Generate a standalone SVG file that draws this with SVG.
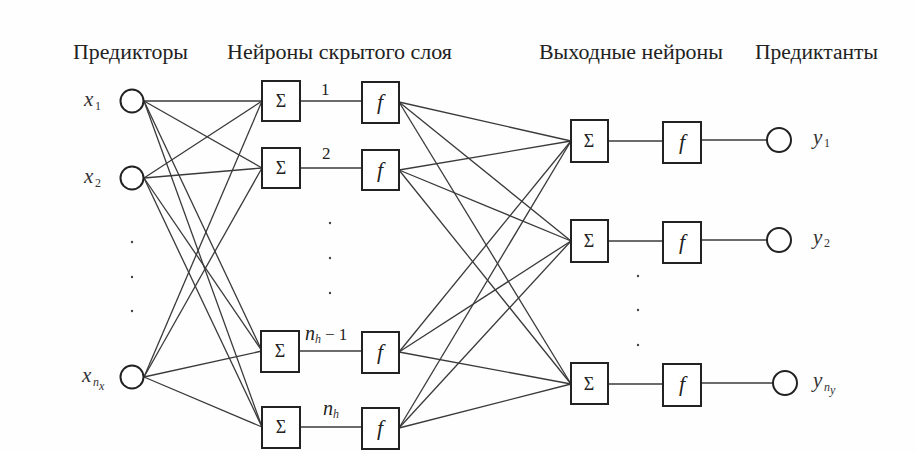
<svg xmlns="http://www.w3.org/2000/svg" width="917" height="453" viewBox="0 0 917 453">
<style>
.hdr{font-size:20px;fill:#222}
.var{font-style:italic;font-size:21px;fill:#333}
.sub{font-size:12px;fill:#333}
.subi{font-style:italic;font-size:12px;fill:#333}
.box{fill:#fff;stroke:#222;stroke-width:2}
.node{fill:#fff;stroke:#222;stroke-width:2}
.sym{font-size:18px;fill:#222;text-anchor:middle}
.fsym{font-style:italic;font-size:22px;fill:#222;text-anchor:middle}
.lbl{font-size:17px;fill:#222}
.lbli{font-style:italic;font-size:20px;fill:#222}
.dot{fill:#444}
#connectors line{stroke:#3a3a3a;stroke-width:1.3}
</style>
<rect fill="#fefefe" x="0" y="0" width="917" height="453"/>
<g id="headers">
<text font-family="Liberation Serif" class="hdr" x="73" y="59" textLength="115" lengthAdjust="spacingAndGlyphs">Предикторы</text>
<text font-family="Liberation Serif" class="hdr" x="227" y="59" textLength="225" lengthAdjust="spacingAndGlyphs">Нейроны скрытого слоя</text>
<text font-family="Liberation Serif" class="hdr" x="539" y="59" textLength="184" lengthAdjust="spacingAndGlyphs">Выходные нейроны</text>
<text font-family="Liberation Serif" class="hdr" x="755" y="59" textLength="123" lengthAdjust="spacingAndGlyphs">Предиктанты</text>
</g>

<g id="connectors">
<line x1="144" y1="101" x2="262" y2="101"/>
<line x1="144" y1="101" x2="262" y2="168"/>
<line x1="144" y1="101" x2="262" y2="351"/>
<line x1="144" y1="101" x2="262" y2="427"/>
<line x1="144" y1="178" x2="262" y2="101"/>
<line x1="144" y1="178" x2="262" y2="168"/>
<line x1="144" y1="178" x2="262" y2="351"/>
<line x1="144" y1="178" x2="262" y2="427"/>
<line x1="144" y1="377" x2="262" y2="101"/>
<line x1="144" y1="377" x2="262" y2="168"/>
<line x1="144" y1="377" x2="262" y2="351"/>
<line x1="144" y1="377" x2="262" y2="427"/>
<line x1="300" y1="101" x2="362" y2="101"/>
<line x1="300" y1="168" x2="362" y2="168"/>
<line x1="299" y1="351" x2="362" y2="351"/>
<line x1="300" y1="427" x2="362" y2="427"/>
<line x1="399" y1="102" x2="571" y2="141"/>
<line x1="399" y1="102" x2="571" y2="241"/>
<line x1="399" y1="102" x2="571" y2="384"/>
<line x1="399" y1="170" x2="571" y2="141"/>
<line x1="399" y1="170" x2="571" y2="241"/>
<line x1="399" y1="170" x2="571" y2="384"/>
<line x1="399" y1="352" x2="571" y2="141"/>
<line x1="399" y1="352" x2="571" y2="241"/>
<line x1="399" y1="352" x2="571" y2="384"/>
<line x1="399" y1="428" x2="571" y2="141"/>
<line x1="399" y1="428" x2="571" y2="241"/>
<line x1="399" y1="428" x2="571" y2="384"/>
<line x1="608" y1="141" x2="663" y2="141"/>
<line x1="608" y1="241" x2="663" y2="241"/>
<line x1="608" y1="384" x2="663" y2="384"/>
<line x1="701" y1="140" x2="767" y2="140"/>
<line x1="701" y1="240" x2="767" y2="240"/>
<line x1="701" y1="383" x2="773" y2="383"/>
</g>

<g id="x1">
<circle class="node" cx="132" cy="101" r="11.5"/>
<text font-family="Liberation Serif" class="var" x="84" y="106">x</text><text font-family="Liberation Serif" class="sub" x="95" y="110">1</text>
</g>
<g id="x2">
<circle class="node" cx="132" cy="178" r="11.5"/>
<text font-family="Liberation Serif" class="var" x="84" y="183">x</text><text font-family="Liberation Serif" class="sub" x="95" y="187">2</text>
</g>
<g id="xnx">
<circle class="node" cx="132" cy="377" r="11.5"/>
<text font-family="Liberation Serif" class="var" x="82" y="382">x</text><text font-family="Liberation Serif" class="subi" x="93" y="386">n</text><text font-family="Liberation Serif" class="subi" x="99" y="390" font-size="9">x</text>
</g>
<g id="input-dots">
<circle class="dot" cx="132" cy="242" r="1.2"/>
<circle class="dot" cx="132" cy="277" r="1.2"/>
<circle class="dot" cx="132" cy="311" r="1.2"/>
</g>

<g id="h1">
<rect class="box" x="262" y="81" width="38" height="40"/>
<text font-family="Liberation Serif" class="sym" x="281" y="107">Σ</text>
<text font-family="Liberation Serif" class="lbl" x="321" y="95">1</text>
<rect class="box" x="362" y="82" width="37" height="41"/>
<text font-family="Liberation Serif" class="fsym" x="380" y="109">f</text>
</g>
<g id="h2">
<rect class="box" x="262" y="148" width="38" height="40"/>
<text font-family="Liberation Serif" class="sym" x="281" y="174">Σ</text>
<text font-family="Liberation Serif" class="lbl" x="322" y="159">2</text>
<rect class="box" x="362" y="150" width="37" height="40"/>
<text font-family="Liberation Serif" class="fsym" x="380" y="177">f</text>
</g>
<g id="hidden-dots">
<circle class="dot" cx="330" cy="223" r="1.2"/>
<circle class="dot" cx="330" cy="258" r="1.2"/>
<circle class="dot" cx="330" cy="293" r="1.2"/>
</g>
<g id="h3">
<rect class="box" x="261" y="331" width="38" height="41"/>
<text font-family="Liberation Serif" class="sym" x="280" y="357">Σ</text>
<text font-family="Liberation Serif" class="lbli" x="305" y="340">n</text><text font-family="Liberation Serif" class="subi" x="315" y="343">h</text><text font-family="Liberation Serif" class="lbl" x="325" y="340">− 1</text>
<rect class="box" x="362" y="332" width="37" height="41"/>
<text font-family="Liberation Serif" class="fsym" x="380" y="359">f</text>
</g>
<g id="h4">
<rect class="box" x="262" y="407" width="38" height="41"/>
<text font-family="Liberation Serif" class="sym" x="281" y="433">Σ</text>
<text font-family="Liberation Serif" class="lbli" x="323" y="415">n</text><text font-family="Liberation Serif" class="subi" x="333" y="418">h</text>
<rect class="box" x="362" y="408" width="37" height="41"/>
<text font-family="Liberation Serif" class="fsym" x="380" y="435">f</text>
</g>

<g id="o1">
<rect class="box" x="571" y="120" width="37" height="42"/>
<text font-family="Liberation Serif" class="sym" x="589" y="147">Σ</text>
<rect class="box" x="663" y="122" width="38" height="41"/>
<text font-family="Liberation Serif" class="fsym" x="682" y="149">f</text>
</g>
<g id="o2">
<rect class="box" x="571" y="220" width="37" height="42"/>
<text font-family="Liberation Serif" class="sym" x="589" y="247">Σ</text>
<rect class="box" x="663" y="222" width="38" height="41"/>
<text font-family="Liberation Serif" class="fsym" x="682" y="249">f</text>
</g>
<g id="output-dots">
<circle class="dot" cx="638" cy="276" r="1.2"/>
<circle class="dot" cx="638" cy="310" r="1.2"/>
<circle class="dot" cx="638" cy="345" r="1.2"/>
</g>
<g id="o3">
<rect class="box" x="571" y="363" width="37" height="41"/>
<text font-family="Liberation Serif" class="sym" x="589" y="390">Σ</text>
<rect class="box" x="663" y="364" width="38" height="42"/>
<text font-family="Liberation Serif" class="fsym" x="682" y="391">f</text>
</g>

<g id="y1">
<circle class="node" cx="779" cy="140" r="12"/>
<text font-family="Liberation Serif" class="var" x="813" y="144">y</text><text font-family="Liberation Serif" class="sub" x="824" y="147">1</text>
</g>
<g id="y2">
<circle class="node" cx="779" cy="240" r="12"/>
<text font-family="Liberation Serif" class="var" x="813" y="244">y</text><text font-family="Liberation Serif" class="sub" x="824" y="247">2</text>
</g>
<g id="yny">
<circle class="node" cx="785" cy="383" r="12"/>
<text font-family="Liberation Serif" class="var" x="813" y="387">y</text><text font-family="Liberation Serif" class="subi" x="824" y="391">n</text><text font-family="Liberation Serif" class="subi" x="830" y="394" font-size="9">y</text>
</g>
</svg>
